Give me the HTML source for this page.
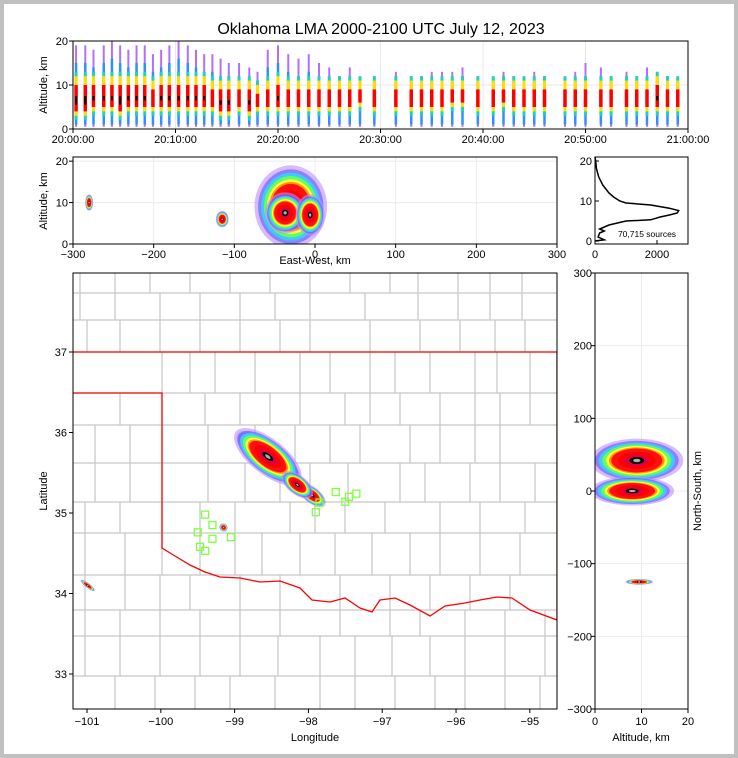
<!DOCTYPE html>
<html><head><meta charset="utf-8"><style>
html,body{margin:0;padding:0;background:#fff}
#wrap{position:relative;width:738px;height:758px;box-sizing:border-box;border:4px solid #c0c0c0;background:#fff}
svg{position:absolute;left:-4px;top:-4px;font-family:"Liberation Sans","DejaVu Sans",sans-serif}
</style></head><body>
<div id="wrap">
<svg id="s" width="738" height="758" viewBox="0 0 738 758">
<text x="381" y="34" text-anchor="middle" font-size="16">Oklahoma LMA 2000-2100 UTC July 12, 2023</text>
</svg>
</div>
<script>
// ---- data ----
const colMinutes=[0.3,1.2,2,3,3.8,4.6,5.4,6.2,7,7.8,8.6,9.4,10.3,11.2,12,12.8,13.6,14.4,15.2,16.2,17.2,18,19,20,21,22,23,24,25,26,27,28,29.4,31.5,33,34,35,36,37,38,39.5,41,42,43,44,45,46,48,49,50,51.5,52.5,54,55,56,57,58,59];
const colTop=[19,19,18,19,20,19,18,19,19,17,18,19,20,19,18,17,17,16,15,15,14,13,18,19,17,16,17,15,14,12,14,11,12,13,12,12,13,13,13,14,12,11,13,12,10,13,12,11,13,15,14,12,13,12,14,13,12,11];
const colCoreLo=[4,4,5,5,5,4,5,5,5,5,5,5,5,5,5,5,5,4,4,5,4,5,5,5,5,5,5,5,5,5,5,6,5,5,5,5,5,5,6,6,5,5,6,5,5,5,5,5,5,5,5,5,5,5,5,5,5,5];
const colCoreHi=[10,10,10,10,10,10,10,10,10,9,10,10,10,10,10,10,9,9,9,9,9,8,9,10,9,9,9,9,9,9,9,9,9,9,9,9,9,9,9,9,9,9,9,9,9,9,9,9,9,9,9,9,9,9,9,10,9,9];
const histAlt=[0,0.3,1,2,2.5,3,4,5,5.3,6,6.5,7,7.6,8.2,9,9.5,10,11,12,13,14,16,18,20,21];
const histCount=[0,300,100,150,300,150,450,1000,1800,2100,2400,2650,2700,2400,1800,1000,800,600,450,350,250,120,50,20,0];
const mapClLon=[-98.72,-98.36,-98.55,-97.95,-98.15,-100.99,-99.15];
const mapClLat=[35.82,35.6,35.7,35.22,35.35,34.1,34.82];
const mapClR=[0.3,0.32,0.55,0.22,0.25,0.12,0.06];
const mapClW=[0.14,0.1,0.22,0.1,0.12,0.03,0.05];
const stationLon=[-99.4,-99.3,-99.5,-99.3,-99.47,-99.4,-99.05,-97.9,-97.85,-97.5,-97.45,-97.35,-97.63];
const stationLat=[34.98,34.85,34.76,34.68,34.58,34.53,34.7,35.01,35.13,35.14,35.2,35.24,35.26];
const ewClEw=[-30,-37,-6,-280,-115];
const ewClAlt=[9,7.5,7,10,6];
const ewClRx=[45,25,18,5,8];
const ewClRy=[10,5,5,2,2];
const nsClNs=[42,0,-125];
const nsClAlt=[9,8,9.5];
const nsClRx=[10,9,3];
const nsClRy=[30,20,4];
// ---- helpers ----
const s=document.getElementById('s');const NS='http://www.w3.org/2000/svg';
function el(t,a,p){const e=document.createElementNS(NS,t);for(const k in a)e.setAttribute(k,a[k]);(p||s).appendChild(e);return e;}
function txt(x,y,t,a){const e=el('text',Object.assign({x:x,y:y,'font-size':11},a||{}));e.textContent=t;return e;}
const cols=['#c08cff','#5a5aff','#40c8ff','#60ff60','#ffff40','#ff9900','#ff1010','#ff0000','#e0003c','#000000','#b0b0b0'];
const fr=[1,0.9,0.82,0.74,0.66,0.6,0.55,0.4,0.28,0.16,0.08];
function blob(cx,cy,rx,ry,rot,g,name){
  for(let i=0;i<cols.length;i++){const f=fr[i];
    const e=el('ellipse',{cx:cx,cy:cy,rx:Math.max(0.8,rx*f),ry:Math.max(0.8,ry*f),fill:cols[i],'fill-opacity':i<2?0.6:1,transform:`rotate(${rot} ${cx} ${cy})`},g);
    
    }
}
function frame(x0,y0,x1,y1,name){const r=el('rect',{x:x0,y:y0,width:x1-x0,height:y1-y0,fill:'none',stroke:'#000','stroke-width':1});}
function clip(id,x0,y0,x1,y1){const c=el('clipPath',{id:id});el('rect',{x:x0,y:y0,width:x1-x0,height:y1-y0},c);const g=el('g',{'clip-path':`url(#${id})`});return g;}
// ---- panel 1: time-height ----
(function(){
  const X0=73,X1=688,Y0=41,Y1=129;
  const tx=m=>X0+m*(X1-X0)/60, ty=a=>Y1-a*(Y1-Y0)/20;
  const g=clip('c1',X0,Y0,X1,Y1);
  [10].forEach(v=>el('line',{x1:X0,x2:X1,y1:ty(v),y2:ty(v),stroke:'#e8e8e8'},g));
  [10,20,30,40,50].forEach(v=>el('line',{x1:tx(v),x2:tx(v),y1:Y0,y2:Y1,stroke:'#e8e8e8'},g));
  colMinutes.forEach((m,i)=>{const x=tx(m);
    const layers=[[0.5,colTop[i],'#b070ff',2],[1,colTop[i]-4,'#3090ff',2.5],[colCoreLo[i]-2,colCoreHi[i]+3,'#20d0c0',3],[colCoreLo[i]-1,colCoreHi[i]+2,'#ffdd00',3],[colCoreLo[i],colCoreHi[i],'#ff0000',3.5],[colCoreLo[i]+1.5,colCoreHi[i]-2.5,'#000',2]];
    layers.forEach(l=>{const r=el('rect',{x:x-l[3]/2,y:ty(l[1]),width:l[3],height:Math.max(0,ty(l[0])-ty(l[1])),fill:l[2]},g);
      
      });
  });
  frame(X0,Y0,X1,Y1,'time-height-panel');
  [0,10,20].forEach(v=>{el('line',{x1:X0-4,x2:X0,y1:ty(v),y2:ty(v),stroke:'#000'});txt(X0-5,ty(v)+4,v,{'text-anchor':'end'});});
  ['20:00:00','20:10:00','20:20:00','20:30:00','20:40:00','20:50:00','21:00:00'].forEach((l,i)=>{const x=tx(i*10);el('line',{x1:x,x2:x,y1:Y1,y2:Y1+4,stroke:'#000'});txt(x,Y1+14,l,{'text-anchor':'middle'});});
  txt(47,85,'Altitude, km',{transform:'rotate(-90 47 85)','text-anchor':'middle'});
})();
// ---- panel 2: EW vs alt ----
(function(){
  const X0=73,X1=557,Y0=157,Y1=244;
  const tx=v=>X0+(v+300)*(X1-X0)/600, ty=a=>Y1-a*(Y1-Y0)/21;
  const g=clip('c2',X0,Y0,X1,Y1);
  [-200,-100,0,100,200].forEach(v=>el('line',{x1:tx(v),x2:tx(v),y1:Y0,y2:Y1,stroke:'#ececec'},g));
  [10,20].forEach(v=>el('line',{x1:X0,x2:X1,y1:ty(v),y2:ty(v),stroke:'#ececec'},g));
  ewClEw.forEach((v,i)=>blob(tx(v),ty(ewClAlt[i]),ewClRx[i]*0.807,ewClRy[i]*(Y1-Y0)/21,0,g,'ew-source-cluster'));
  frame(X0,Y0,X1,Y1,'east-west-panel');
  [0,10,20].forEach(v=>{el('line',{x1:X0-4,x2:X0,y1:ty(v),y2:ty(v),stroke:'#000'});txt(X0-5,ty(v)+4,v,{'text-anchor':'end'});});
  [-300,-200,-100,0,100,200,300].forEach(v=>{const x=tx(v);el('line',{x1:x,x2:x,y1:Y1,y2:Y1+4,stroke:'#000'});txt(x,Y1+14,v<0?'\u2212'+(-v):v,{'text-anchor':'middle'});});
  txt(315,264,'East-West, km',{'text-anchor':'middle'});
  txt(47,201,'Altitude, km',{transform:'rotate(-90 47 201)','text-anchor':'middle'});
})();
// ---- histogram ----
(function(){
  const X0=595,X1=688,Y0=157,Y1=244;
  const tx=v=>X0+v*(X1-X0)/3000, ty=a=>241-a*4;
  frame(X0,Y0,X1,Y1,'histogram-panel');
  const p=el('polyline',{points:histAlt.map((a,i)=>tx(histCount[i])+','+ty(a)).join(' '),fill:'none',stroke:'#000','stroke-width':1.5});
  
  
  [0,10,20].forEach(v=>{el('line',{x1:X0,x2:X0+4,y1:ty(v),y2:ty(v),stroke:'#000'});txt(X0-3,ty(v)+4,v,{'text-anchor':'end'});});
  [0,2000].forEach(v=>{el('line',{x1:tx(v),x2:tx(v),y1:Y1,y2:Y1-4,stroke:'#000'});txt(tx(v),Y1+14,v,{'text-anchor':'middle'});});
  txt(647,237,'70,715 sources',{'text-anchor':'middle','font-size':8.5});
})();
// ---- map ----
(function(){
  const X0=73,X1=557,Y0=273,Y1=709;
  const tx=l=>73+(l+101.19)*73.8, ty=a=>352-(a-37)*80.5;
  const g=clip('c3',X0,Y0,X1,Y1);
  const cg=el('g',{stroke:'#c8c8c8','stroke-width':1.3,fill:'none'},g);
  
  const hy=[293,320,352,393,425,463,502,533,575,610,636,676];
  hy.forEach(y=>el('line',{x1:X0,x2:X1,y1:y,y2:y},cg));
  const rows=[[273,293,[80,115,150,190,230,270,310,350,390,418,458,490,522]],[293,320,[80,115,160,200,240,275,310,365,418,458,490,522]],[320,352,[87,120,160,200,240,280,310,370,420,460,495,525]],[352,393,[162,190,215,255,300,330,370,395,430,475,497,530]],[393,425,[120,162,205,240,270,300,345,370,400,440,475,500,530]],[425,463,[95,130,162,208,255,295,330,360,410,440,475,500]],[463,502,[95,130,162,208,245,280,310,348,400,425,470,500,535]],[502,533,[85,120,162,200,235,290,315,345,385,440,480,525]],[533,575,[85,125,162,200,235,262,300,335,372,410,440,480,520]],[575,610,[85,125,160,190,240,280,340,390,430,470,510]],[610,636,[85,120,160,200,240,280,340,390,420,465,505,545]],[636,676,[85,120,160,200,240,278,320,355,392,430,465,505,545]],[676,709,[115,155,195,230,275,320,355,395,435,465,505,540]]];
  rows.forEach(r=>r[2].forEach(x=>el('line',{x1:x,x2:x,y1:r[0],y2:r[1]},cg)));
  const rp=el('polyline',{points:'73,352 557,352',fill:'none',stroke:'#ff0000','stroke-width':1.3},g);
  
  const rb=el('polyline',{points:'73,393 162,393 162,548 175,556 190,565 205,572 220,577 240,578 260,582 280,581 300,588 312,600 330,602 345,598 360,608 372,612 380,600 395,598 410,605 430,616 445,606 465,603 480,600 497,597 512,598 530,610 557,620',fill:'none',stroke:'#ff0000','stroke-width':1.3},g);
  
  el('line',{x1:557,x2:557,y1:352,y2:620,stroke:'#ff0000','stroke-width':1.3},g);
  mapClLon.forEach((l,i)=>blob(tx(l),ty(mapClLat[i]),mapClR[i]*73.8,mapClW[i]*80.5,38,g,'plan-view-source-cluster'));
  stationLon.forEach((l,i)=>{const r=el('rect',{x:tx(l)-3.5,y:ty(stationLat[i])-3.5,width:7,height:7,fill:'none',stroke:'#80ff40','stroke-width':1.3},g);
    
    });
  frame(X0,Y0,X1,Y1,'map-panel');
  [33,34,35,36,37].forEach(v=>{el('line',{x1:X0-4,x2:X0,y1:ty(v),y2:ty(v),stroke:'#000'});txt(X0-6,ty(v)+4,v,{'text-anchor':'end'});});
  [-101,-100,-99,-98,-97,-96,-95].forEach(v=>{const x=tx(v);el('line',{x1:x,x2:x,y1:Y1,y2:Y1+4,stroke:'#000'});txt(x,Y1+16,'\u2212'+(-v),{'text-anchor':'middle'});});
  txt(315,741,'Longitude',{'text-anchor':'middle'});
  txt(47,491,'Latitude',{transform:'rotate(-90 47 491)','text-anchor':'middle'});
})();
// ---- NS vs alt ----
(function(){
  const X0=595,X1=688,Y0=273,Y1=709;
  const tx=a=>X0+a*(X1-X0)/20, ty=v=>Y0+(300-v)*(Y1-Y0)/600;
  const g=clip('c4',X0,Y0,X1,Y1);
  [-200,-100,0,100,200].forEach(v=>el('line',{x1:X0,x2:X1,y1:ty(v),y2:ty(v),stroke:'#ececec'},g));
  [10].forEach(v=>el('line',{x1:tx(v),x2:tx(v),y1:Y0,y2:Y1,stroke:'#ececec'},g));
  nsClNs.forEach((v,i)=>blob(tx(nsClAlt[i]),ty(v),nsClRx[i]*4.65,nsClRy[i]*0.727,0,g,'ns-source-cluster'));
  frame(X0,Y0,X1,Y1,'north-south-panel');
  [-300,-200,-100,0,100,200,300].forEach(v=>{el('line',{x1:X0-4,x2:X0,y1:ty(v),y2:ty(v),stroke:'#000'});txt(X0-3,ty(v)+4,v<0?'\u2212'+(-v):v,{'text-anchor':'end'});});
  [0,10,20].forEach(v=>{el('line',{x1:tx(v),x2:tx(v),y1:Y1,y2:Y1+4,stroke:'#000'});txt(tx(v),Y1+16,v,{'text-anchor':'middle'});});
  txt(641,741,'Altitude, km',{'text-anchor':'middle'});
  txt(701,491,'North-South, km',{transform:'rotate(-90 701 491)','text-anchor':'middle'});
})();
</script>
</body></html>
